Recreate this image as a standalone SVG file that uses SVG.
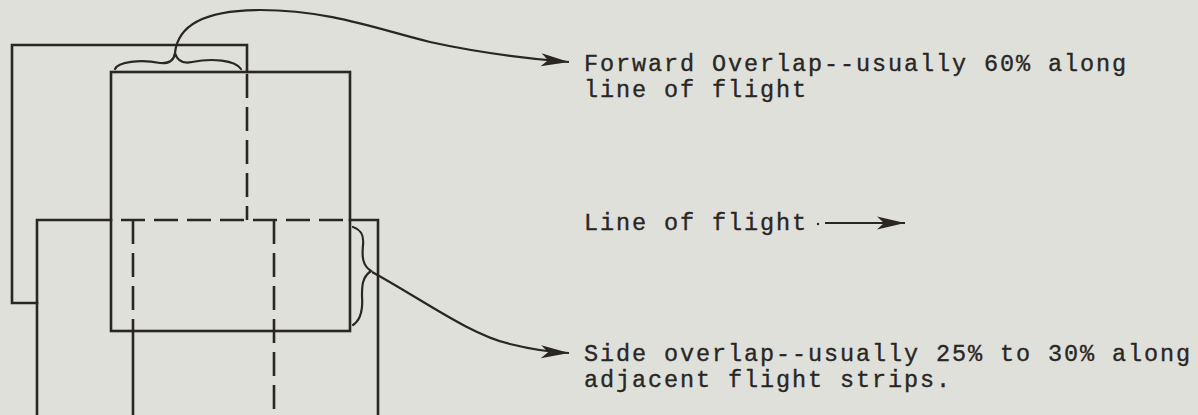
<svg xmlns="http://www.w3.org/2000/svg" width="1198" height="415" viewBox="0 0 1198 415">
<style>
.ln{fill:none;stroke:#2a2624;stroke-width:2.6;stroke-linecap:square}
.ds{fill:none;stroke:#2a2624;stroke-width:2.6;stroke-dasharray:24 9}
.br{fill:none;stroke:#2a2624;stroke-width:2.2;stroke-linecap:round}
.cn{fill:none;stroke:#2a2624;stroke-width:2.2}
.tx{font-family:"Liberation Mono","Courier New",monospace;font-size:23.5px;letter-spacing:1.9px;fill:#2a2624;stroke:#2a2624;stroke-width:0.35}
</style>
<defs>
<marker id="ah" markerUnits="userSpaceOnUse" markerWidth="32" markerHeight="18" viewBox="-30 -9 32 18" refX="0" refY="0" orient="auto">
<path d="M0,0 L-28,-6.5 L-21,0 L-28,6.5 Z" fill="#2a2624"/>
</marker>
</defs>
<rect width="1198" height="415" fill="#dfe0d9"/>
<g id="photo-a">
<path class="ln" d="M37,303 H12 V45 H247 V72"/>
<path class="ds" d="M247,74 V220"/>
</g>
<g id="photo-b">
<rect class="ln" x="111" y="72" width="239" height="259"/>
</g>
<g id="photo-c">
<path class="ln" d="M37,415 V220 H111"/>
<path class="ds" d="M121,220 H350"/>
<path class="ln" d="M350,220 H378 V415"/>
</g>
<g id="photo-d">
<path class="ds" d="M133,220 V331"/>
<path class="ln" d="M133,331 V415"/>
<path class="ds" d="M274,220 V415"/>
</g>
<g id="brace-forward">
<path class="br" d="M115,69 C118,62 140,59 160,63 C170,64 174,60 175,53 C177,60 182,64 192,62 C212,58 235,60 241,69"/>
</g>
<g id="brace-side">
<path class="br" d="M353,227 C362,230 364,236 363,245 C362,256 362,265 371,271 C362,277 362,286 362,296 C363,310 361,320 353,325"/>
</g>
<g id="connectors">
<path class="cn" d="M175,53 C178,22 210,10 260,10 C330,10 380,30 430,42 C480,53 520,58 569,62" marker-end="url(#ah)"/>
<path class="cn" d="M372,272 C420,298 470,335 510,344 C530,349 545,352 569,353" marker-end="url(#ah)"/>
<circle cx="818" cy="224" r="1.2" fill="#2a2624"/>
<path class="cn" d="M825,223 H905" stroke-width="3" marker-end="url(#ah)"/>
</g>
<g id="label-forward">
<text class="tx" x="584" y="71">Forward Overlap--usually 60% along</text>
<text class="tx" x="584" y="97">line of flight</text>
</g>
<g id="label-line">
<text class="tx" x="584" y="230">Line of flight</text>
</g>
<g id="label-side">
<text class="tx" x="584" y="361">Side overlap--usually 25% to 30% along</text>
<text class="tx" x="584" y="387">adjacent flight strips.</text>
</g>
</svg>
